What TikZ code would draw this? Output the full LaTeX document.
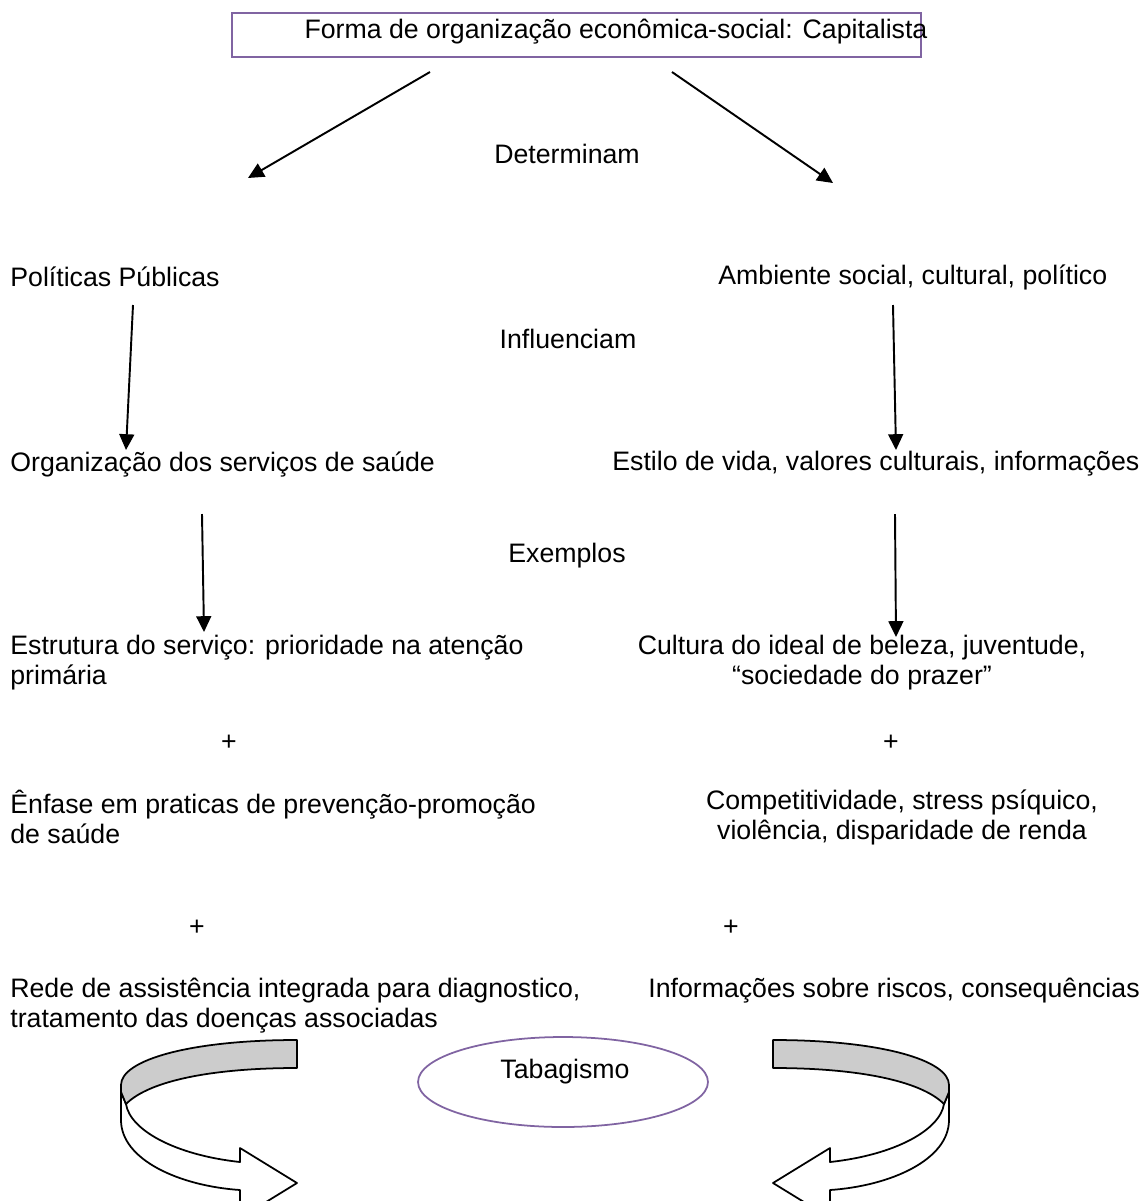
\documentclass[tikz,border=0pt]{standalone}
\usepackage{fontspec}
\setmainfont{Liberation Sans}
\usetikzlibrary{arrows.meta,shapes.geometric}
\definecolor{roxo}{RGB}{128,100,162}
\definecolor{cinza}{RGB}{204,204,204}

\begin{document}
\begin{tikzpicture}[x=0.02cm,y=-0.02cm]
\tikzstyle{texto}=[inner sep=0pt,font=\fontsize{15.2}{17.07}\selectfont]
\tikzstyle{esq}=[texto,anchor=west,align=left]
\tikzstyle{meio}=[texto,align=center]
\tikzstyle{seta}=[line width=1.1pt,-{Triangle[length=9pt,width=8.5pt]}]
\tikzstyle{curva}=[line width=1pt,line join=round]

\useasboundingbox (0,0) rectangle (1148,1201);
\clip (0,0) rectangle (1148,1201);

% topo
\node [draw=roxo,line width=1pt,minimum width=13.78cm,minimum height=0.88cm] (caixa) at (576.5,35) {};
\node [texto] (forma) at (616,32) {Forma de organização econômica-social: Capitalista};

\node [meio] (determinam) at (567,154) {Determinam};
\node [meio] (influenciam) at (568,339) {Influenciam};
\node [meio] (exemplos) at (567,556) {Exemplos};

% coluna esquerda
\node [esq] (politicas) at (10,277) {Políticas Públicas};
\node [esq] (organizacao) at (10,464) {Organização dos serviços de saúde};
\node [esq] (estrutura) at (10,663) {Estrutura do serviço: prioridade na atenção\\primária};
\node [meio] (mais1) at (229,743) {+};
\node [esq] (enfase) at (10,817) {Ênfase em praticas de prevenção-promoção\\de saúde};
\node [meio] (mais3) at (197,928) {+};
\node [esq] (rede) at (10,1006) {Rede de assistência integrada para diagnostico,\\tratamento das doenças associadas};

% coluna direita
\node [esq] (ambiente) at (718,277) {Ambiente social, cultural, político};
\node [esq] (estilo) at (612,464) {Estilo de vida, valores culturais, informações};
\node [meio] (cultura) at (862,663) {Cultura do ideal de beleza, juventude,\\“sociedade do prazer”};
\node [meio] (mais2) at (891,743) {+};
\node [meio] (compet) at (902,817) {Competitividade, stress psíquico,\\violência, disparidade de renda};
\node [meio] (mais4) at (731,928) {+};
\node [esq] (informacoes) at (648,991) {Informações sobre riscos, consequências};

\node [draw=roxo,line width=1pt,ellipse,minimum width=5.8cm,minimum height=1.8cm] (elipse) at (563,1082) {};
\node [meio] (tabagismo) at (565,1072) {Tabagismo};

\coordinate (a1) at (430,72);   \coordinate (b1) at (248,178);
\coordinate (a2) at (672,72);   \coordinate (b2) at (833,183);
\coordinate (a3) at (133,305);  \coordinate (b3) at (126,450);
\coordinate (a4) at (893,305);  \coordinate (b4) at (896,450);
\coordinate (a5) at (202,514);  \coordinate (b5) at (204,632);
\coordinate (a6) at (895,514);  \coordinate (b6) at (896,637);

\foreach \i in {1,...,6}
    \draw [seta] (a\i) -- (b\i);

% setas curvas
\foreach \lado/\desl in {1/0,-1/1070} {
\begin{scope}[shift={(\desl,0)},xscale=\lado]
\draw [curva,fill=white]
    (121,1092) -- (121,1120) .. controls (121,1160) and (180,1186) .. (240,1190)
    -- (240,1218) -- (297,1183) -- (240,1148) -- (240,1162)
    .. controls (175,1155) and (130,1130) .. (126,1104) -- cycle;
\draw [curva,fill=cinza]
    (297,1040) .. controls (190,1040) and (121,1060) .. (121,1085) -- (121,1092)
    -- (126,1104) .. controls (150,1080) and (215,1068) .. (297,1068) -- cycle;
\end{scope}
}
\end{tikzpicture}
\end{document}
